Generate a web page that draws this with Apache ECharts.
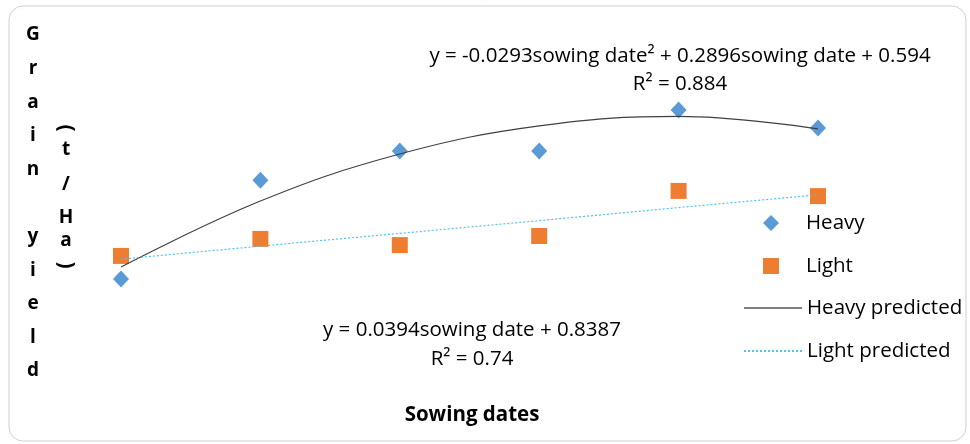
<!DOCTYPE html>
<html>
<head>
<meta charset="utf-8">
<script src="https://cdn.jsdelivr.net/npm/echarts@6/dist/echarts.min.js"></script>
<style>
  html, body { margin: 0; padding: 0; background: #fff; }
  #chart { width: 970px; height: 444px; }
</style>
</head>
<body>
<div id="chart"></div>
<script>
// sowing dates (1..6), no tick labels shown in the figure
const sowingDates = [1, 2, 3, 4, 5, 6];

// grain yield
const heavyYield = [0.817, 1.120, 1.209, 1.209, 1.335, 1.280];
const lightYield = [0.888, 0.940, 0.921, 0.949, 1.087, 1.071];

// trend lines as drawn (read at each sowing date)
const heavyPredicted = [0.854, 1.056, 1.200, 1.286, 1.315, 1.277];
const lightPredicted = [0.878, 0.918, 0.957, 0.996, 1.036, 1.075];

const seriesNames = ['Heavy', 'Light', 'Heavy predicted', 'Light predicted'];

const heavyEquation = 'y = -0.0293sowing date² + 0.2896sowing date + 0.594';
const heavyR2 = 'R² = 0.884';
const lightEquation = 'y = 0.0394sowing date + 0.8387';
const lightR2 = 'R² = 0.74';
const xTitle = 'Sowing dates';
const yTitleMain = ['G', 'r', 'a', 'i', 'n', '', 'y', 'i', 'e', 'l', 'd'];
const yTitleUnit = ['(', 't', '/', 'H', 'a', ')'];

const FONT = 'Open Sans';
const FS = 20.5;

const pairs = (xs, ys) => xs.map((x, i) => [x, ys[i]]);

const chart = echarts.init(document.getElementById('chart'));

// stacked y-axis title letters
const titleGraphics = [];
yTitleMain.forEach((ch, i) => {
  if (!ch) return;
  titleGraphics.push({
    type: 'text',
    x: 33, y: 35 + i * 33.6,
    style: { text: ch, font: `bold 19px ${FONT}`, fill: '#000', align: 'center', verticalAlign: 'middle' }
  });
});
const unitY = [128, 150, 185, 218, 241, 265];
yTitleUnit.forEach((ch, i) => {
  const paren = ch === '(' || ch === ')';
  titleGraphics.push({
    type: 'text',
    x: 66, y: unitY[i],
    rotation: paren ? -Math.PI / 2 : 0,
    style: { text: ch, font: `bold ${paren ? 21 : 19}px ${FONT}`, fill: '#000', align: 'center', verticalAlign: 'middle' }
  });
});

const textStyle = (text, x, y, bold) => ({
  type: 'text',
  x: x, y: y,
  style: {
    text: text,
    font: `${bold ? 'bold ' : ''}${FS}px ${FONT}`,
    fill: '#000',
    align: 'center',
    verticalAlign: 'middle'
  }
});

const option = {
  backgroundColor: '#fff',
  animation: false,
  grid: { left: 121, right: 152, top: 88.7, bottom: 126.7 },
  xAxis: {
    type: 'value', min: 1, max: 6,
    show: false
  },
  yAxis: {
    type: 'value', min: 0.7, max: 1.4,
    show: false
  },
  legend: [
    {
      data: ['Heavy', 'Light'],
      orient: 'vertical',
      left: 758, top: 207,
      itemWidth: 16, itemHeight: 16,
      itemGap: 21,
      textStyle: { fontFamily: FONT, fontSize: FS, color: '#000', lineHeight: 22, padding: [0, 0, 0, 22] }
    },
    {
      data: [
        { name: 'Heavy predicted', lineStyle: { color: '#7f7f7f' } },
        'Light predicted'
      ],
      orient: 'vertical',
      left: 738, top: 292,
      itemWidth: 58, itemHeight: 14,
      itemGap: 21,
      itemStyle: { opacity: 0 },
      textStyle: { fontFamily: FONT, fontSize: FS, color: '#000', lineHeight: 22 }
    }
  ],
  graphic: [
    {
      type: 'rect',
      shape: { x: 9, y: 6, width: 957, height: 435, r: 14 },
      style: { fill: 'none', stroke: '#d0d0d0', lineWidth: 1 },
      silent: true
    },
    textStyle(heavyEquation, 680, 56),
    textStyle(heavyR2, 680, 84),
    textStyle(lightEquation, 472, 330),
    textStyle(lightR2, 472, 359),
    textStyle(xTitle, 472, 415, true)
  ].concat(titleGraphics),
  series: [
    {
      name: seriesNames[0],
      type: 'scatter',
      symbol: 'diamond',
      symbolSize: [16, 17],
      itemStyle: { color: '#5b9bd5', opacity: 1 },
      z: 2,
      data: pairs(sowingDates, heavyYield)
    },
    {
      name: seriesNames[1],
      type: 'scatter',
      symbol: 'rect',
      symbolSize: 16,
      itemStyle: { color: '#ed7d31', opacity: 1 },
      z: 2,
      data: pairs(sowingDates, lightYield)
    },
    {
      name: seriesNames[2],
      type: 'line',
      smooth: 0.4,
      symbol: 'none',
      lineStyle: { color: '#404040', width: 1.2, type: 'solid' },
      itemStyle: { color: '#404040' },
      z: 3,
      data: pairs(sowingDates, heavyPredicted)
    },
    {
      name: seriesNames[3],
      type: 'line',
      symbol: 'none',
      lineStyle: { color: '#4fc3ee', width: 1.2, type: [2, 2] },
      itemStyle: { color: '#4fc3ee' },
      z: 3,
      data: pairs(sowingDates, lightPredicted)
    }
  ]
};

chart.setOption(option);
</script>
</body>
</html>
